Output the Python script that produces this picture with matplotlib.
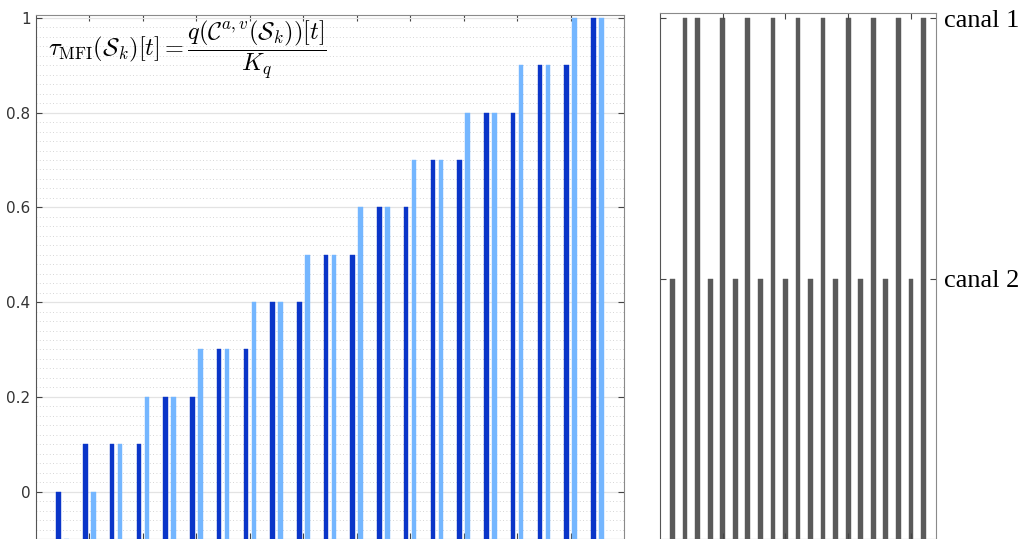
import matplotlib
matplotlib.use('Agg')
import matplotlib.pyplot as plt
import numpy as np

plt.rcParams['mathtext.fontset'] = 'cm'

# left panel: paired values per time step
steps = np.arange(1, 22)
tau_dark = [0, 0.1, 0.1, 0.1, 0.2, 0.2, 0.3, 0.3, 0.4, 0.4, 0.5,
            0.5, 0.6, 0.6, 0.7, 0.7, 0.8, 0.8, 0.9, 0.9, 1.0]
tau_light = [-0.1, 0, 0.1, 0.2, 0.2, 0.3, 0.3, 0.4, 0.4, 0.5, 0.5,
             0.6, 0.6, 0.7, 0.7, 0.8, 0.8, 0.9, 0.9, 1.0, 1.0]
# right panel: active channel per time step (2 = canal 1, 1 = canal 2)
channel = [1, 2, 2, 1, 2, 1, 2, 1, 2, 1, 2, 1, 2, 1, 2, 1, 2, 1, 2, 1, 2]
channel_ticks = [1, 2]
channel_labels = ['canal 2', 'canal 1']

dark = '#0A35C8'
light = '#74B6FF'
gray = '#5A5A5A'

fig = plt.figure(figsize=(10.27, 5.39), dpi=100)
ax = fig.add_axes([36/1027, 0, (624-36)/1027, (539-15)/539])
ax2 = fig.add_axes([660/1027, 0, (936-660)/1027, (539-13)/539])

base = -0.1
ax.bar(steps - 0.15, np.array(tau_dark) - base, bottom=base, width=0.17,
       color=dark, edgecolor=dark, linewidth=0.3, zorder=3)
ax.bar(steps + 0.15, np.array(tau_light) - base, bottom=base, width=0.17,
       color=light, edgecolor=light, linewidth=0.3, zorder=3)
ax.set_xlim(0, 22)
ax.set_ylim(-0.1, 1.006)
ax.set_yticks([0, 0.2, 0.4, 0.6, 0.8, 1.0])
ax.set_yticklabels(['0', '0.2', '0.4', '0.6', '0.8', '1'])
ax.set_yticks(np.arange(-0.1, 1.0, 0.02), minor=True)
ax.set_xticks(np.arange(2, 21, 2))
ax.set_xticklabels([])
ax.grid(axis='y', which='major', color='#E3E3E3', linewidth=0.9, zorder=0)
ax.grid(axis='y', which='minor', color='#C8C8C8', linestyle=(0, (1, 3)), linewidth=0.6, zorder=0)
ax.tick_params(axis='y', which='minor', length=0)
ax.tick_params(axis='both', which='major', direction='in', length=4,
               top=True, right=True, labelsize=11, labelcolor='#333333', color='#444444')
ax.tick_params(axis='y', pad=4)
for s in ax.spines.values():
    s.set_color('#8A8A8A')
    s.set_linewidth(0.8)
ax.spines['left'].set_color('#555555')
ax.text(0.02, 0.932, r'$\tau_{\mathrm{MFI}}(\mathcal{S}_k)[t] = \dfrac{q(\mathcal{C}^{a,v}(\mathcal{S}_k))[t]}{K_q}$',
        transform=ax.transAxes, fontsize=17.5, va='center', ha='left')

ax2.bar(steps, channel, width=0.37, color=gray, edgecolor=gray, linewidth=0.3)
ax2.set_xlim(0, 22)
ax2.set_ylim(0, 2.02)
ax2.set_xticks([5, 10, 15, 20])
ax2.set_xticklabels([])
ax2.set_yticks(channel_ticks)
ax2.set_yticklabels(channel_labels, fontfamily='Liberation Serif', fontsize=19)
ax2.yaxis.tick_right()
ax2.tick_params(axis='both', direction='in', length=4, top=True, left=True,
                color='#444444', pad=6)
for s in ax2.spines.values():
    s.set_color('#8A8A8A')
    s.set_linewidth(0.8)
ax2.spines['left'].set_color('#555555')

fig.savefig('out.png', dpi=100)
